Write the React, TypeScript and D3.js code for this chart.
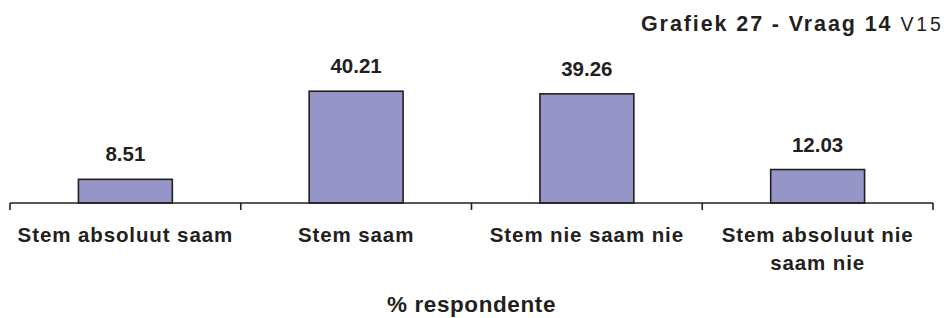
import React from "react";
import * as d3 from "d3";

const categories = ["Stem absoluut saam", "Stem saam", "Stem nie saam nie", "Stem absoluut nie saam nie"];
const values = [8.51, 40.21, 39.26, 12.03];
const titleBold = "Grafiek 27 - Vraag 14";
const titleRegular = "V15";
const axisTitle = "% respondente";

const W = 951;
const H = 318;
const INK = "#231f20";
const FONT = "'Liberation Sans', Arial, Helvetica, sans-serif";

function wrap(label: string, maxChars: number): string[] {
  const words = label.split(" ");
  const lines: string[] = [];
  let cur = "";
  for (const w of words) {
    const next = cur ? cur + " " + w : w;
    if (next.length > maxChars && cur) {
      lines.push(cur);
      cur = w;
    } else cur = next;
  }
  if (cur) lines.push(cur);
  return lines;
}

export default function App() {
  const x0 = 10, x1 = 933;
  const yBase = 203;
  const x = d3.scaleBand<string>().domain(categories).range([x0, x1]).paddingInner(0.593).paddingOuter(0.2965);
  const y = d3.scaleLinear().domain([0, 50]).range([yBase, 64]);
  const step = x.step();
  const tickXs = d3.range(categories.length + 1).map((i) => x0 + i * step);

  return (
    <svg width={W} height={H} style={{ position: "absolute", left: 0, top: 0, background: "#fff" }} fontFamily={FONT}>
      <rect x={0} y={0} width={W} height={H} fill="#fff" />
      <text x={641} y={31} fill={INK}>
        <tspan fontWeight="bold" fontSize={21.5} letterSpacing={1.9}>{titleBold}</tspan>
        <tspan fontSize={19.5} dx={8} letterSpacing={2.8}>{titleRegular}</tspan>
      </text>
      {values.map((v, i) => {
        const c = categories[i];
        const bx = x(c) as number;
        return (
          <g key={c}>
            <rect x={bx} y={y(v)} width={x.bandwidth()} height={yBase - y(v)} fill="#9595c8" stroke={INK} strokeWidth={1.6} />
            <text x={bx + x.bandwidth() / 2} y={y(v) - 18} textAnchor="middle" fontWeight="bold" fontSize={20.5} fill={INK}>
              {v.toFixed(2)}
            </text>
          </g>
        );
      })}
      <line x1={x0} x2={x1} y1={yBase} y2={yBase} stroke={INK} strokeWidth={1.6} />
      {tickXs.map((tx, i) => (
        <line key={i} x1={tx} x2={tx} y1={yBase} y2={yBase + 7} stroke={INK} strokeWidth={1.6} />
      ))}
      {categories.map((c) => {
        const cx = (x(c) as number) + x.bandwidth() / 2;
        const lines = wrap(c, 18);
        return (
          <text key={c} x={cx} y={242} textAnchor="middle" fontWeight="bold" fontSize={20.5} letterSpacing={0.9} fill={INK}>
            {lines.map((l, j) => (
              <tspan key={j} x={cx} dy={j === 0 ? 0 : 28}>{l}</tspan>
            ))}
          </text>
        );
      })}
      <text x={(x0 + x1) / 2} y={312} textAnchor="middle" fontWeight="bold" fontSize={22.5} letterSpacing={0.6} fill={INK}>
        {axisTitle}
      </text>
    </svg>
  );
}
